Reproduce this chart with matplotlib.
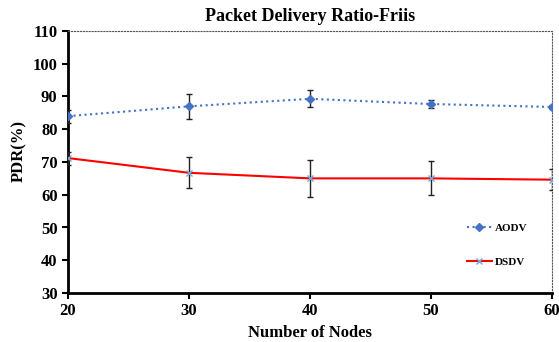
import numpy as np
import matplotlib
matplotlib.use("Agg")
from matplotlib import pyplot as plt
from matplotlib.lines import Line2D

nodes = [20, 30, 40, 50, 60]
aodv = [84.0, 87.0, 89.3, 87.7, 86.8]
aodv_err = [2.0, 3.8, 2.6, 1.3, 0.7]
dsdv = [71.2, 66.7, 65.0, 65.0, 64.6]
dsdv_err = [2.0, 4.7, 5.6, 5.2, 3.2]
yticks = [30, 40, 50, 60, 70, 80, 90, 100, 110]

plt.rcParams['font.family'] = ['Liberation Serif', 'DejaVu Serif']
plt.rcParams['font.weight'] = 'bold'

fig = plt.figure(figsize=(5.59, 3.42), dpi=100)
ax = fig.add_axes([68 / 559, 1 - 293 / 342, (552 - 68) / 559, (293 - 31) / 342])

ax.errorbar(nodes, aodv, yerr=aodv_err, color='#4472C4', linestyle=':', linewidth=1.5,
            marker='D', markersize=4, ecolor='#222222', elinewidth=1, capsize=2,
            zorder=3)
ax.errorbar(nodes, dsdv, yerr=dsdv_err, color='#FF0000', linestyle='-', linewidth=1.5,
            marker='x', markersize=5, markeredgecolor='#6FA8DC', ecolor='#222222',
            elinewidth=1, capsize=2, zorder=3)

ax.set_xlim(20, 60)
ax.set_ylim(30, 110)
ax.set_xticks(nodes)
ax.set_yticks(yticks)
ax.tick_params(direction='out', length=4, width=1.5, labelsize=12)
for lbl in ax.get_xticklabels() + ax.get_yticklabels():
    lbl.set_fontweight('bold')

for s in ['left', 'bottom']:
    ax.spines[s].set_linewidth(2)
    ax.spines[s].set_color('black')
for s in ['top', 'right']:
    ax.spines[s].set_linewidth(0.8)
    ax.spines[s].set_linestyle(':')
    ax.spines[s].set_color('#555555')

ax.set_title('Packet Delivery Ratio-Friis', fontsize=13, fontweight='bold', pad=7)
ax.set_xlabel('Number of Nodes', fontsize=12, fontweight='bold', labelpad=4)
ax.set_ylabel('PDR(%)', fontsize=12, fontweight='bold')
ax.yaxis.set_label_coords(-0.085, 0.542)

handles = [
    Line2D([], [], color='#4472C4', linestyle=':', linewidth=1.5, marker='D', markersize=4),
    Line2D([], [], color='#FF0000', linestyle='-', linewidth=1.5, marker='x', markersize=5,
           markeredgecolor='#6FA8DC'),
]
ax.legend(handles, ['AODV', 'DSDV'], loc='lower right', bbox_to_anchor=(0.97, 0.06),
          frameon=False, prop={'size': 8, 'weight': 'bold'}, handlelength=2.2,
          labelspacing=2.2, handletextpad=0.3)

fig.savefig('out.png', dpi=100)
